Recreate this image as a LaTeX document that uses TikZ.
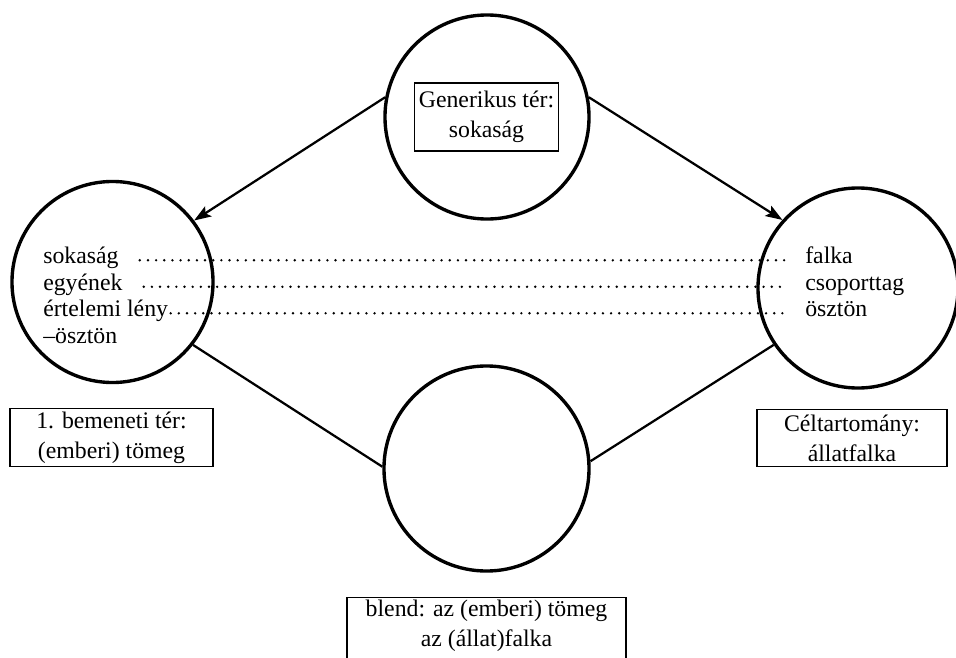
\documentclass[tikz,border=0pt]{standalone}
\usepackage{fontspec}
\setmainfont{Liberation Serif}
\usetikzlibrary{arrows.meta}

\begin{document}
\begin{tikzpicture}[x=0.025cm, y=-0.025cm, >={Stealth[length=12pt, width=8.5pt, inset=2.5pt]},
    kor/.style={circle, draw, line width=2.4pt, inner sep=0pt},
    doboz/.style={draw, line width=0.9pt, align=center, inner xsep=3pt, inner ysep=1.5pt,
        font=\fontsize{16.9pt}{21.3pt}\selectfont},
    szo/.style={inner sep=0pt, text height=1ex, text depth=0pt, anchor=base west,
        font=\fontsize{16.9pt}{18.8pt}\selectfont},
    pont/.style={line width=1.9pt, line cap=round, dash pattern=on 0pt off 5.8pt},
    nyil/.style={line width=1.6pt}]
    % Kép mérete
    \useasboundingbox (0,0) rectangle (956,658);

    % 1. A négy kör
    \node[kor, minimum size=5.1cm] (gen) at (487,117) {};
    \node[kor, minimum size=5.025cm] (inp) at (112.5,282) {};
    \node[kor, minimum size=5cm] (tgt) at (858,288) {};
    \node[kor, minimum size=5.125cm] (bld) at (486.5,468.5) {};

    % 2. Keretes feliratok
    \node[doboz, minimum width=3.575cm, minimum height=1.7cm] (genfelirat) at (486.5,117)
        {Generikus tér:\\ sokaság};
    \node[doboz, anchor=north, minimum width=5.075cm, minimum height=1.45cm] (inpfelirat) at (111.5,408)
        {1. bemeneti tér:\\ (emberi) tömeg};
    \node[doboz, anchor=north, minimum width=4.75cm, minimum height=1.425cm] (tgtfelirat) at (852,409)
        {Céltartomány:\\ állatfalka};
    \node[doboz, anchor=north, minimum width=6.975cm] (bldfelirat) at (486.5,597)
        {blend: az (emberi) tömeg\\ az (állat)falka\rule[-20pt]{0pt}{1pt}};

    % 3. A két oldal elemei
    \node[szo] (sok) at (43,263.5) {sokaság};
    \node[szo] (egy) at (43,290) {egyének};
    \node[szo] (ert) at (43,316.5) {értelemi lény};
    \node[szo] (osz) at (43,343) {–ösztön};

    \node[szo] (fal) at (805,263.5) {falka};
    \node[szo] (cso) at (805,290) {csoporttag};
    \node[szo] (osz2) at (805,316.5) {ösztön};

    % 4. Pontozott megfeleltetések
    \draw[pont] ([xshift=0.525cm]sok.east) -- ([xshift=-0.425cm]fal.west);
    \draw[pont] ([xshift=0.525cm]egy.east) -- ([xshift=-0.425cm]cso.west);
    \draw[pont] ([xshift=0.06cm]ert.east) -- ([xshift=-0.45cm]osz2.west);

    % 5. Nyilak és vonalak a körök között
    \draw[nyil, ->] (gen.169) -- (inp.37);
    \draw[nyil, ->] (gen.11) -- (tgt.138);
    \draw[nyil] (inp.322) -- (bld.179);
    \draw[nyil] (bld.4) -- (tgt.214);

\end{tikzpicture}
\end{document}
